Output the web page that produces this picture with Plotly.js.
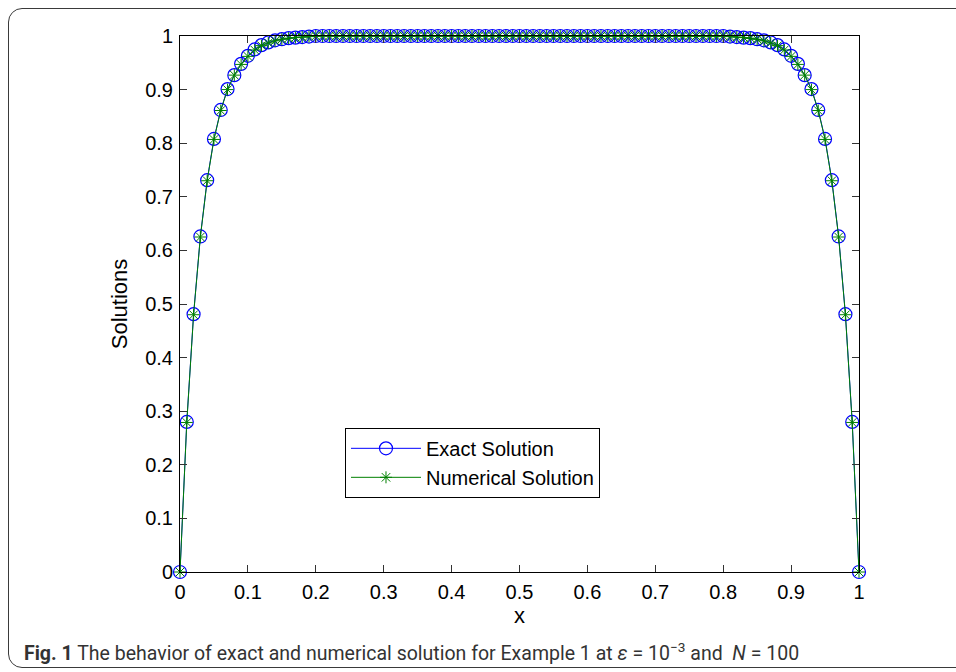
<!DOCTYPE html>
<html>
<head>
<meta charset="utf-8">
<script src="https://cdn.plot.ly/plotly-3.0.1.min.js"></script>
<style>
  html, body { margin: 0; padding: 0; width: 956px; height: 672px; overflow: hidden; background: #fff; }
  #chart { position: absolute; left: 0; top: 0; width: 956px; height: 672px; }
  #frame { position: absolute; left: 8px; top: 8px; width: 1000px; height: 658px;
           border: 1.5px solid #3a3a3a; border-radius: 14px; pointer-events: none; }
</style>
</head>
<body>
<div id="chart"></div>
<div id="frame"></div>
<script>
// x grid (N = 100)
const xValues = [0,0.01,0.02,0.03,0.04,0.05,0.06,0.07,0.08,0.09,
  0.1,0.11,0.12,0.13,0.14,0.15,0.16,0.17,0.18,0.19,
  0.2,0.21,0.22,0.23,0.24,0.25,0.26,0.27,0.28,0.29,
  0.3,0.31,0.32,0.33,0.34,0.35,0.36,0.37,0.38,0.39,
  0.4,0.41,0.42,0.43,0.44,0.45,0.46,0.47,0.48,0.49,
  0.5,0.51,0.52,0.53,0.54,0.55,0.56,0.57,0.58,0.59,
  0.6,0.61,0.62,0.63,0.64,0.65,0.66,0.67,0.68,0.69,
  0.7,0.71,0.72,0.73,0.74,0.75,0.76,0.77,0.78,0.79,
  0.8,0.81,0.82,0.83,0.84,0.85,0.86,0.87,0.88,0.89,
  0.9,0.91,0.92,0.93,0.94,0.95,0.96,0.97,0.98,0.99,1];

// values
const exactSolution = [0,0.280,0.481,0.626,0.731,0.808,0.862,0.901,0.927,0.948,
  0.963,0.975,0.983,0.988,0.992,0.994,0.996,0.997,0.998,0.999,
  1,1,1,1,1,1,1,1,1,1,
  1,1,1,1,1,1,1,1,1,1,
  1,1,1,1,1,1,1,1,1,1,
  1,1,1,1,1,1,1,1,1,1,
  1,1,1,1,1,1,1,1,1,1,
  1,1,1,1,1,1,1,1,1,1,
  1,0.999,0.998,0.997,0.996,0.994,0.992,0.988,0.983,0.975,
  0.963,0.948,0.927,0.901,0.862,0.808,0.731,0.626,0.481,0.280,0];

const numericalSolution = [0,0.279,0.480,0.625,0.730,0.807,0.861,0.900,0.927,0.947,
  0.962,0.974,0.982,0.987,0.991,0.994,0.996,0.997,0.998,0.999,
  1,1,1,1,1,1,1,1,1,1,
  1,1,1,1,1,1,1,1,1,1,
  1,1,1,1,1,1,1,1,1,1,
  1,1,1,1,1,1,1,1,1,1,
  1,1,1,1,1,1,1,1,1,1,
  1,1,1,1,1,1,1,1,1,1,
  1,0.999,0.998,0.997,0.996,0.994,0.991,0.987,0.982,0.974,
  0.962,0.947,0.927,0.900,0.861,0.807,0.730,0.625,0.480,0.279,0];

const tickVals = [0,0.1,0.2,0.3,0.4,0.5,0.6,0.7,0.8,0.9,1];
const tickText = ['0','0.1','0.2','0.3','0.4','0.5','0.6','0.7','0.8','0.9','1'];
const seriesNames = ['Exact Solution', 'Numerical Solution'];
const captionText = '<b>Fig. 1</b> The behavior of exact and numerical solution for Example 1 at <i>ε</i> = 10<sup>−3</sup> and  <i>N</i> = 100';

const plotFont = 'Liberation Sans, Arial, Helvetica, sans-serif';

const traces = [
  {
    x: xValues, y: exactSolution, name: seriesNames[0],
    type: 'scatter', mode: 'lines+markers',
    line: { color: '#0000ff', width: 1 },
    marker: { symbol: 'circle-open', size: 13, color: '#0000ff', line: { width: 1.2, color: '#0000ff' } },
    cliponaxis: false
  },
  {
    x: xValues, y: numericalSolution, name: seriesNames[1],
    type: 'scatter', mode: 'lines+markers',
    line: { color: '#008000', width: 1 },
    marker: { symbol: 'asterisk-open', size: 10, color: '#008000', line: { width: 1, color: '#008000' } },
    cliponaxis: false
  }
];

const axisCommon = {
  range: [0, 1],
  tickvals: tickVals, ticktext: tickText,
  ticks: 'inside', ticklen: 7, tickwidth: 1, tickcolor: '#333',
  showline: true, linecolor: '#000', linewidth: 1, mirror: 'allticks',
  showgrid: false, zeroline: false,
  tickfont: { family: plotFont, size: 20, color: '#000' },
  fixedrange: true
};

const layout = {
  width: 956, height: 672,
  margin: { l: 180, r: 97, t: 36, b: 100, pad: 0 },
  paper_bgcolor: '#fff', plot_bgcolor: '#fff',
  showlegend: true,
  xaxis: Object.assign({}, axisCommon, {
    title: { text: 'x', font: { family: plotFont, size: 22, color: '#000' }, standoff: 3 },
    ticklabelstandoff: 2
  }),
  yaxis: Object.assign({}, axisCommon, {
    title: { text: 'Solutions', font: { family: plotFont, size: 22, color: '#000' }, standoff: 11 },
    ticklabelstandoff: 2
  }),
  legend: {
    x: 0.243, y: 0.269, xanchor: 'left', yanchor: 'top',
    bgcolor: '#fff', bordercolor: '#000', borderwidth: 1,
    font: { family: plotFont, size: 20, color: '#000' },
    itemwidth: 70, tracegroupgap: 0
  },
  annotations: [
    {
      xref: 'paper', yref: 'paper', x: -0.233, y: -0.149, xanchor: 'left', yanchor: 'middle',
      text: captionText, showarrow: false, align: 'left',
      font: { family: 'Roboto, Open Sans, sans-serif', size: 19.5, color: '#333' }
    }
  ]
};

Plotly.newPlot('chart', traces, layout, { displayModeBar: false, staticPlot: true });
</script>
</body>
</html>
